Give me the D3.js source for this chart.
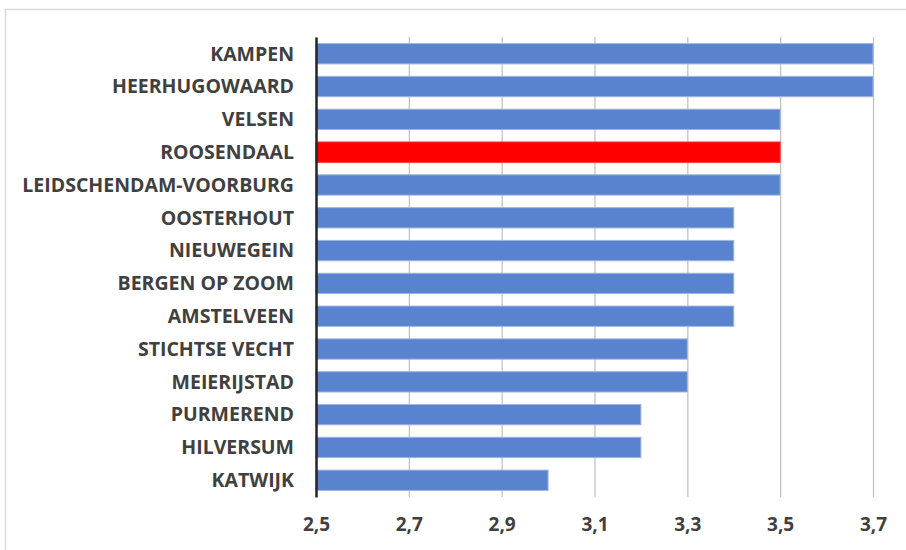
<!DOCTYPE html>
<html>
<head>
<meta charset="utf-8">
<script src="https://cdn.jsdelivr.net/npm/d3@7"></script>
<style>
  html, body { margin: 0; padding: 0; background: #fff; }
  svg { display: block; }
  text { font-family: "Open Sans", sans-serif; font-weight: bold; fill: #404040; }
</style>
</head>
<body>
<svg id="chart" width="906" height="550"></svg>
<script>
const categories = [
  "KAMPEN", "HEERHUGOWAARD", "VELSEN", "ROOSENDAAL", "LEIDSCHENDAM-VOORBURG",
  "OOSTERHOUT", "NIEUWEGEIN", "BERGEN OP ZOOM", "AMSTELVEEN", "STICHTSE VECHT",
  "MEIERIJSTAD", "PURMEREND", "HILVERSUM", "KATWIJK"
];
const values = [3.7, 3.7, 3.5, 3.5, 3.5, 3.4, 3.4, 3.4, 3.4, 3.3, 3.3, 3.2, 3.2, 3.0];
const highlighted = ["ROOSENDAAL"];
const tickValues = [2.5, 2.7, 2.9, 3.1, 3.3, 3.5, 3.7];

const svg = d3.select("#chart");

// chart frame
svg.append("rect")
  .attr("x", 5.5).attr("y", 9.5)
  .attr("width", 940).attr("height", 600)
  .attr("fill", "#fff").attr("stroke", "#d9d9d9").attr("stroke-width", 1.5);

const plot = { left: 316, right: 873, top: 37, bottom: 497 };

const x = d3.scaleLinear().domain([2.5, 3.7]).range([plot.left, plot.right]);
const y = d3.scaleBand().domain(categories).range([plot.top, plot.bottom]).paddingInner(0.38).paddingOuter(0.2);

// vertical gridlines
svg.append("g")
  .attr("transform", `translate(0,${plot.bottom})`)
  .call(d3.axisBottom(x).tickValues(tickValues).tickSize(-(plot.bottom - plot.top)).tickFormat(""))
  .call(g => g.select(".domain").remove())
  .call(g => g.selectAll(".tick line").attr("stroke", "#bfbfbf").attr("stroke-width", 1.2));

// bars
svg.append("g").selectAll("rect")
  .data(categories)
  .join("rect")
  .attr("x", x(2.5))
  .attr("y", d => y(d))
  .attr("width", (d, i) => x(values[i]) - x(2.5))
  .attr("height", y.bandwidth())
  .attr("fill", d => highlighted.includes(d) ? "#ff0000" : "#5a83cf")
  .attr("stroke", d => highlighted.includes(d) ? "#ff3030" : "#9fb6e3")
  .attr("stroke-width", 1);

// category axis
const yAxis = svg.append("g")
  .attr("transform", `translate(${plot.left},0)`)
  .call(d3.axisLeft(y).tickSize(0).tickPadding(22));
yAxis.select(".domain").attr("stroke", "#262626").attr("stroke-width", 2.5);
yAxis.selectAll(".tick text")
  .attr("font-size", 19.5)
  .attr("font-family", "'Open Sans', sans-serif")
  .attr("font-weight", "bold")
  .attr("fill", "#404040")
  .attr("dy", "0.35em");

// value axis labels
const xAxis = svg.append("g")
  .attr("transform", `translate(0,${plot.bottom})`)
  .call(d3.axisBottom(x).tickValues(tickValues).tickSize(0).tickPadding(21)
    .tickFormat(d => d3.format(".1f")(d).replace(".", ",")));
xAxis.select(".domain").remove();
xAxis.selectAll(".tick text")
  .attr("font-size", 19)
  .attr("font-family", "'Open Sans', sans-serif")
  .attr("font-weight", "bold")
  .attr("fill", "#404040");
</script>
</body>
</html>
